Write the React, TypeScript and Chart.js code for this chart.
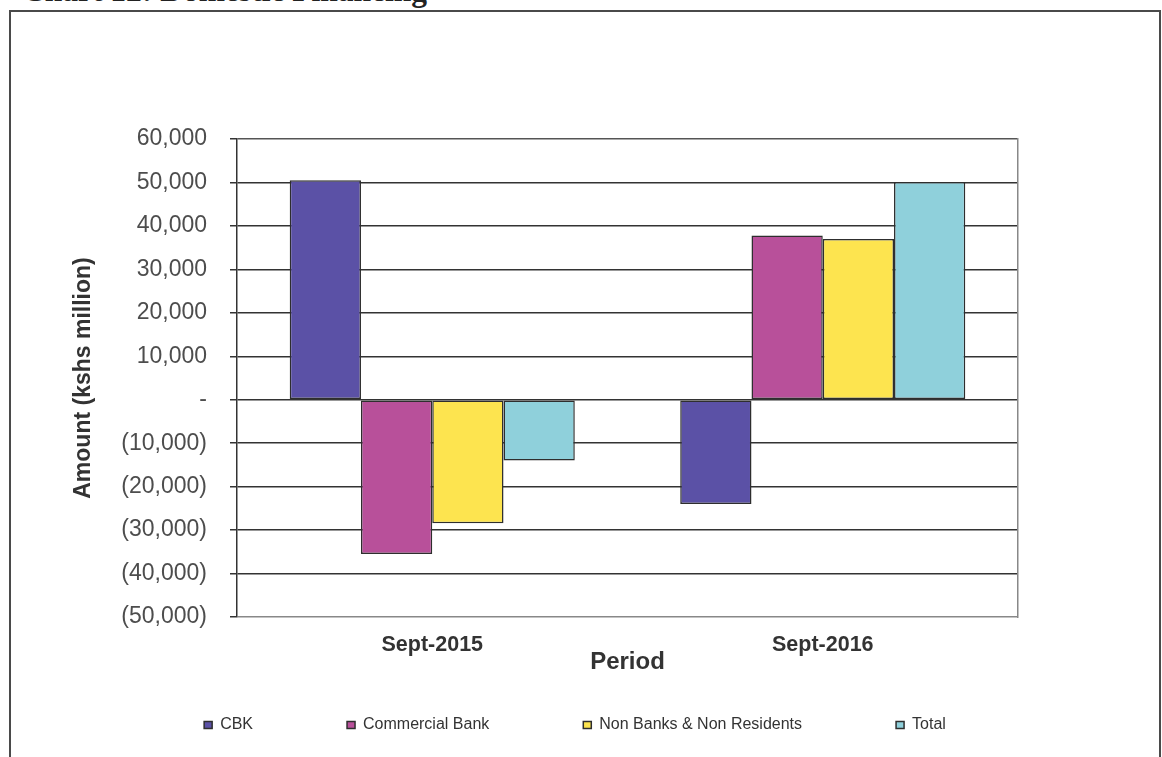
import React, { useEffect, useRef } from "react";
import { Chart, registerables } from "chart.js";

Chart.register(...registerables);

const categories = ["Sept-2015", "Sept-2016"];
const seriesNames = ["CBK", "Commercial Bank", "Non Banks & Non Residents", "Total"];
const cbk = [50500, -24000];
const commercialBank = [-35500, 37800];
const nonBanks = [-28400, 37000];
const total = [-14000, 50100];
const seriesColors = ["#5b51a6", "#b8509a", "#fde44f", "#8fd0db"];

const yMin = -50000;
const yMax = 60000;
const yStep = 10000;

const FAMILY = '"Liberation Sans", Arial, sans-serif';

const fmtTick = (v: number) => {
  if (v === 0) return "-";
  const s = Math.abs(v).toLocaleString("en-US");
  return v < 0 ? `(${s})` : s;
};

export default function App() {
  const canvasRef = useRef<HTMLCanvasElement | null>(null);

  useEffect(() => {
    const canvas = canvasRef.current;
    if (!canvas) return;
    const values = [cbk, commercialBank, nonBanks, total];
    const chart = new Chart(canvas, {
      type: "bar",
      data: {
        labels: categories,
        datasets: seriesNames.map((name, i) => ({
          label: name,
          data: values[i],
          backgroundColor: seriesColors[i],
          borderColor: "#2e2e2e",
          borderWidth: 1.5,
          borderSkipped: false,
          categoryPercentage: 0.73,
          barPercentage: 1.0,
          yAxisID: "y",
        })),
      },
      options: {
        responsive: false,
        animation: false,
        devicePixelRatio: 1,
        layout: {
          autoPadding: false,
          padding: { top: 127, left: 0, right: 20, bottom: 14 },
        },
        plugins: {
          tooltip: { enabled: false },
          title: { display: false },
          legend: {
            display: true,
            position: "bottom",
            align: "center",
            labels: {
              boxWidth: 8,
              boxHeight: 7,
              padding: 94,
              color: "#333",
              font: { family: FAMILY, size: 16 },
            },
          },
        },
        scales: {
          x: {
            type: "category",
            grid: { display: false, drawTicks: false },
            border: { display: false },
            ticks: {
              color: "#333",
              mirror: true,
              padding: -41,
              font: { family: FAMILY, size: 21.5, weight: "bold" },
            },
            title: {
              display: true,
              text: "Period",
              color: "#333",
              font: { family: FAMILY, size: 24, weight: "bold" },
              padding: { top: 0, bottom: -54 },
            },
            afterFit: (s: any) => {
              s.height = 6;
            },
          },
          y: {
            type: "linear",
            position: "left",
            min: yMin,
            max: yMax,
            ticks: {
              stepSize: yStep,
              color: "#4d4d4d",
              padding: 23,
              font: { family: FAMILY, size: 23 },
              callback: (v: any) => fmtTick(Number(v)),
            },
            grid: {
              display: true,
              drawTicks: true,
              tickLength: 7,
              lineWidth: 1.5,
              color: (ctx: any) => {
                const v = ctx.tick ? ctx.tick.value : null;
                if (v === yMin) return "#888";
                if (v === yMax) return "#555";
                return "#333";
              },
              tickColor: "#333",
            },
            border: { display: true, color: "#333", width: 1.5 },
            title: {
              display: true,
              text: "Amount (kshs million)",
              color: "#333",
              font: { family: FAMILY, size: 23, weight: "bold" },
              padding: { top: 59, bottom: 0 },
            },
            afterFit: (s: any) => {
              s.width = 226;
            },
          },
          yR: {
            type: "linear",
            position: "right",
            display: true,
            grid: { display: true, drawTicks: false, drawOnChartArea: false, color: "rgba(0,0,0,0)" },
            border: { display: true, color: "#888", width: 1.5 },
            ticks: { display: false },
            afterFit: (s: any) => {
              s.width = 121;
            },
          },
        },
      },
    });
    return () => chart.destroy();
  }, []);

  return (
    <div
      style={{
        position: "absolute",
        left: 0,
        top: 0,
        width: 1162,
        height: 757,
        overflow: "hidden",
        background: "#fff",
      }}
    >
      <div
        style={{
          position: "absolute",
          left: 22,
          top: -25,
          font: 'bold 31.5px "Liberation Serif", "Times New Roman", serif',
          lineHeight: "31.5px",
          whiteSpace: "nowrap",
          color: "#222",
        }}
      >
        Chart 12: Domestic Financing
      </div>
      <div
        style={{
          position: "absolute",
          left: 9,
          top: 10,
          width: 1152,
          height: 800,
          boxSizing: "border-box",
          border: "2px solid #4a4a4a",
        }}
      />
      <canvas
        ref={canvasRef}
        width={1148}
        height={745}
        style={{ position: "absolute", left: 11, top: 12, width: 1148, height: 745, display: "block" }}
      />
    </div>
  );
}
